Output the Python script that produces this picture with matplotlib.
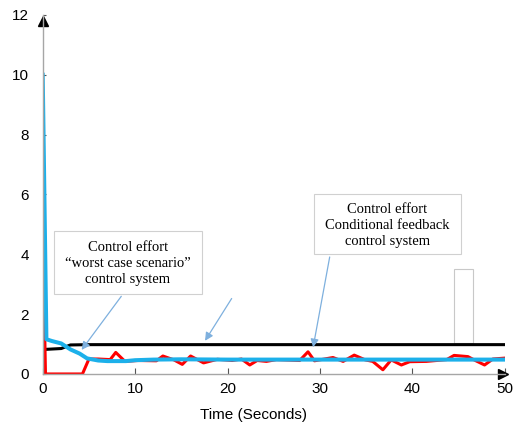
# Control effort comparison: black, red and blue responses over 50 s

import matplotlib.pyplot as plt
from matplotlib.patches import Rectangle

plt.rcParams["font.family"] = ["Liberation Sans", "DejaVu Sans"]

# black curve
black_t = [0, 0.2, 2, 3, 5, 50]
black_v = [1.08, 0.82, 0.85, 0.97, 0.98, 0.98]

# red curve ("worst case scenario")
red_t = [0, 0.3, 4.3, 5.0, 6, 7.3, 7.9, 8.9, 10.3, 12.3, 13.0, 14.2, 15.1, 16.0,
         17.4, 18.9, 20.5, 21.5, 22.4, 23.2, 24.2, 25.3, 27.8, 28.7, 29.4, 31.4,
         32.5, 33.7, 34.9, 35.7, 36.8, 37.7, 38.8, 39.7, 41.5, 43.7, 44.5, 46.0,
         46.8, 47.8, 48.7, 50]
red_v = [5, 0, 0, 0.5, 0.5, 0.48, 0.72, 0.42, 0.45, 0.44, 0.6, 0.47, 0.32, 0.6,
         0.37, 0.49, 0.45, 0.5, 0.3, 0.45, 0.42, 0.48, 0.45, 0.74, 0.44, 0.55,
         0.42, 0.63, 0.47, 0.42, 0.14, 0.47, 0.3, 0.41, 0.42, 0.48, 0.62, 0.58,
         0.45, 0.3, 0.5, 0.53]

# blue curve (conditional feedback)
blue_t = [0, 0.4, 1, 2, 3, 4, 4.8, 6, 7, 9, 10, 12, 15, 20, 25, 30, 35, 40, 45, 50]
blue_v = [10, 1.16, 1.1, 1.02, 0.82, 0.68, 0.52, 0.45, 0.43, 0.43, 0.46, 0.48,
          0.49, 0.48, 0.48, 0.48, 0.48, 0.48, 0.48, 0.48]

x_ticks = [0, 10, 20, 30, 40, 50]
y_ticks = [0, 2, 4, 6, 8, 10, 12]

fig = plt.figure(figsize=(5.17, 4.24), dpi=100)
ax = fig.add_axes([0.0826, 0.118, 0.894, 0.847])

ax.plot(black_t, black_v, color="black", lw=2.2)
ax.plot(red_t, red_v, color="#ff0000", lw=2.2)
ax.plot(blue_t, blue_v, color="#1cb0ea", lw=2.9)

ax.set_xlim(0, 50)
ax.set_ylim(0, 12)
ax.set_xticks(x_ticks)
ax.set_yticks(y_ticks)

for s in ["top", "right"]:
    ax.spines[s].set_visible(False)
for s in ["left", "bottom"]:
    ax.spines[s].set_color("#a6a6a6")
    ax.spines[s].set_linewidth(1.0)

ax.tick_params(axis="y", direction="in", length=2, color="#555555", pad=10,
               labelsize=11)
ax.tick_params(axis="x", direction="in", length=4, color="#555555", pad=6,
               labelsize=11)

# arrow heads on the axes
ax.plot([0], [11.8], marker="^", color="black", ms=7, clip_on=False)
ax.plot([49.75], [0], marker=">", color="black", ms=7, clip_on=False)

ax.set_xlabel("Time (Seconds)", fontsize=11)
ax.xaxis.set_label_coords(0.456, -0.095)

# text boxes
serif = "Liberation Serif"
ax.add_patch(Rectangle((1.22, 2.67), 16.0, 2.1, fill=False, ec="#d0d0d0", lw=0.8))
ax.text(9.2, 3.7, "Control effort\n\u201cworst case scenario\u201d\ncontrol system",
        ha="center", va="center", family=serif, fontsize=10.5, linespacing=1.3)

ax.add_patch(Rectangle((29.4, 4.0), 15.8, 2.03, fill=False, ec="#d0d0d0", lw=0.8))
ax.text(37.3, 4.97, "Control effort\nConditional feedback\ncontrol system",
        ha="center", va="center", family=serif, fontsize=10.5, linespacing=1.3)

# stray outline near the end
ax.add_patch(Rectangle((44.5, 1.03), 2.1, 2.47, fill=False, ec="#c8c8c8", lw=0.8))

arrow = dict(arrowstyle="-|>", color="#7eb0de", lw=0.9, mutation_scale=12)
ax.annotate("", xy=(4.03, 0.73), xytext=(8.68, 2.67), arrowprops=arrow)
ax.annotate("", xy=(17.4, 1.03), xytext=(20.6, 2.6), arrowprops=arrow)
ax.annotate("", xy=(29.2, 0.8), xytext=(31.1, 4.0), arrowprops=arrow)

fig.savefig("out.png", dpi=100)
